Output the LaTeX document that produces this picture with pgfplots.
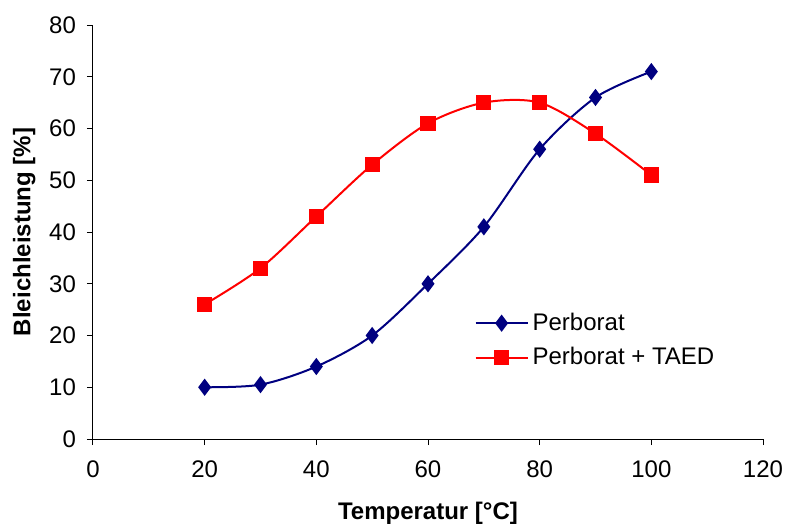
\documentclass[border=0pt]{standalone}
\usepackage{fontspec}
\setmainfont{Liberation Sans}
\usepackage{pgfplots}
\pgfplotsset{compat=1.18}
\definecolor{navy}{RGB}{0,0,128}
\begin{document}
\begin{tikzpicture}
\begin{axis}[
  scale only axis,
  width=335pt, height=207pt,
  xmin=0, xmax=120, ymin=0, ymax=80,
  xtick={0,20,...,120}, ytick={0,10,...,80},
  axis x line*=bottom, axis y line*=left,
  axis line style={black, line width=0.5pt, -},
  tick align=outside, major tick length=3pt,
  tick style={black, line width=0.5pt},
  /pgf/number format/assume math mode=true,
  tick label style={font=\fontsize{12}{14}\selectfont},
  xticklabel style={yshift=-4.5pt},
  yticklabel style={xshift=-2pt},
  xlabel={\textbf{Temperatur [°C]}},
  ylabel={\textbf{Bleichleistung [\%]}},
  label style={font=\fontsize{12}{14}\selectfont},
  xlabel style={yshift=-5pt},
  ylabel style={yshift=0pt},
  legend style={at={(0.569,0.315)}, anchor=north west, draw=none, fill=none,
    font=\fontsize{12}{14}\selectfont, row sep=3pt, inner sep=0pt},
  legend cell align=left,
  legend image code/.code={
    \draw[#1] (0pt,0pt) -- (26pt,0pt);
    \draw[#1, only marks] plot coordinates {(13pt,0pt)};
  },
]
\addplot[navy, line width=1pt, smooth, mark=diamond*, mark size=3.5pt, mark options={fill=navy, draw=navy}]
  coordinates {(20,10) (30,10.5) (40,14) (50,20) (60,30) (70,41) (80,56) (90,66) (100,71)};
\addlegendentry{Perborat}
\addplot[red, line width=1pt, smooth, mark=square*, mark size=3.3pt, mark options={fill=red, draw=red}]
  coordinates {(20,26) (30,33) (40,43) (50,53) (60,61) (70,65) (80,65) (90,59) (100,51)};
\addlegendentry{Perborat + TAED}
\end{axis}
\pgfresetboundingbox
\path (current axis.south west) ++(-46.5pt,-42.5pt) coordinate (bl);
\path (current axis.north east) ++(11.5pt,12.5pt) coordinate (tr);
\path[use as bounding box] (bl) rectangle (tr);
\end{tikzpicture}
\end{document}
